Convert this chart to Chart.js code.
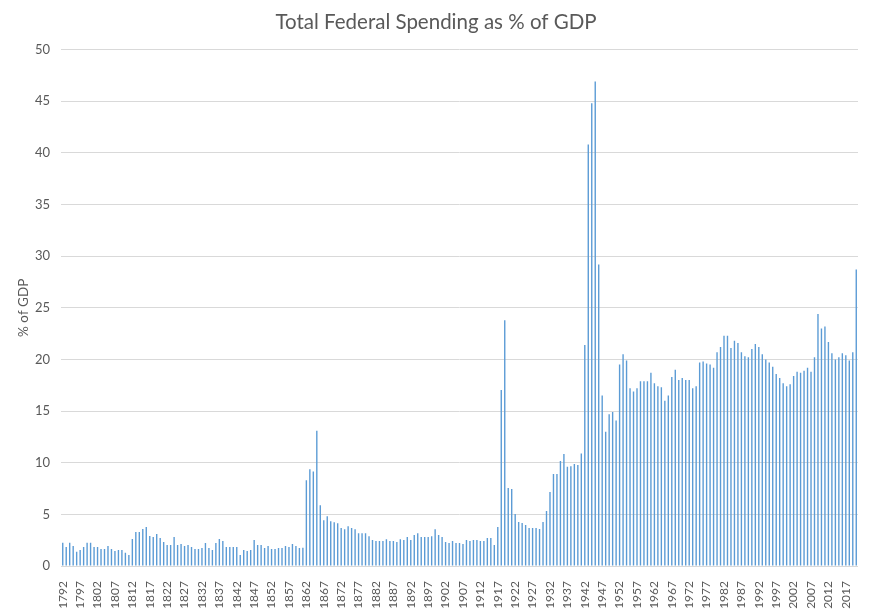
<!DOCTYPE html>
<html>
<head>
<meta charset="utf-8">
<title>Total Federal Spending as % of GDP</title>
<script src="https://cdn.jsdelivr.net/npm/chart.js@4/dist/chart.umd.min.js"></script>
<style>
    html, body { margin: 0; padding: 0; background: #fff; }
    #wrap { width: 872px; height: 609px; }
</style>
</head>
<body>
<div id="wrap"><canvas id="chart"></canvas></div>
<script>
// % of GDP by year
const firstYear = 1792;

const spendEarly = [ // 1792-1861
    2.26, 1.84, 2.26, 1.94, 1.39, 1.55, 1.84, 2.26, 2.26, 1.84,
    1.84, 1.65, 1.65, 1.94, 1.65, 1.45, 1.55, 1.55, 1.29, 1.06,
    2.61, 3.29, 3.29, 3.58, 3.77, 2.90, 2.81, 3.10, 2.71, 2.32,
    2.03, 2.03, 2.81, 2.03, 2.13, 1.94, 2.03, 1.84, 1.65, 1.65,
    1.74, 2.23, 1.74, 1.55, 2.23, 2.61, 2.42, 1.84, 1.84, 1.84,
    1.84, 1.06, 1.55, 1.45, 1.55, 2.52, 2.03, 2.03, 1.74, 1.94,
    1.65, 1.65, 1.74, 1.74, 1.94, 1.84, 2.13, 1.94, 1.74, 1.77
];
const spendCivilWar = [ // 1862-1916
    8.3, 9.36, 9.16, 13.1, 5.88, 4.44, 4.82, 4.34, 4.24, 4.15,
    3.67, 3.57, 3.86, 3.67, 3.57, 3.18, 3.18, 3.18, 2.89, 2.51,
    2.41, 2.41, 2.41, 2.60, 2.41, 2.41, 2.32, 2.60, 2.51, 2.80,
    2.51, 2.99, 3.18, 2.80, 2.80, 2.80, 2.89, 3.57, 2.99, 2.81,
    2.32, 2.23, 2.42, 2.23, 2.23, 2.13, 2.52, 2.42, 2.52, 2.52,
    2.42, 2.42, 2.71, 2.71, 2.03
];
const spendWars = [ // 1917-1951
    3.77, 17.03, 23.8, 7.55, 7.45, 5.03, 4.26, 4.16, 3.97, 3.68,
    3.68, 3.68, 3.58, 4.26, 5.32, 7.16, 8.90, 8.90, 10.16, 10.84,
    9.6, 9.65, 9.87, 9.77, 10.9, 21.4, 40.8, 44.8, 46.9, 29.2,
    16.5, 13.0, 14.7, 14.9, 14.1
];
const spendModern = [ // 1952-2020
    19.5, 20.5, 19.9, 17.2, 16.9, 17.2, 17.9, 17.9, 17.9, 18.7,
    17.7, 17.4, 17.3, 16.0, 16.5, 18.3, 19.0, 18.0, 18.2, 18.0,
    18.0, 17.2, 17.4, 19.7, 19.8, 19.6, 19.5, 19.2, 20.7, 21.2,
    22.3, 22.3, 21.1, 21.8, 21.6, 20.7, 20.3, 20.2, 21.0, 21.5,
    21.2, 20.5, 20.0, 19.7, 19.3, 18.6, 18.2, 17.7, 17.4, 17.6,
    18.4, 18.8, 18.7, 18.9, 19.2, 18.8, 20.2, 24.4, 23.0, 23.2,
    21.7, 20.6, 20.0, 20.2, 20.6, 20.4, 19.9, 20.7, 28.7
];

const spending = spendEarly.concat(spendCivilWar, spendWars, spendModern);
const years = spending.map((v, i) => String(firstYear + i));

const textColor = '#595959';
const fontFace = 'Lato, "DejaVu Sans", sans-serif';

let chartEle = document.getElementById("chart");
let chart = new Chart(chartEle, {
    type: "bar",
    data: {
        labels: years,
        datasets: [
            {
                label: '% of GDP',
                data: spending,
                backgroundColor: '#5b9bd5',
                categoryPercentage: 1,
                barPercentage: 0.4
            }
        ]
    },
    options: {
        responsive: true,
        maintainAspectRatio: false,
        animation: false,
        layout: {
            padding: { top: 6, right: 7, left: 7, bottom: 0 }
        },
        plugins: {
            legend: { display: false },
            tooltip: { enabled: false },
            title: {
                display: true,
                text: 'Total Federal Spending as % of GDP',
                color: textColor,
                font: { family: fontFace, size: 20.5, weight: 'normal' },
                padding: { top: 4, bottom: 15 }
            }
        },
        scales: {
            x: {
                grid: { display: false },
                border: { display: false },
                afterFit: (axis) => {
                    // keep the plot the same size as the original
                    axis.height = 43;
                    axis.paddingLeft = 0;
                    axis.paddingRight = 14;
                },
                ticks: {
                    autoSkip: false,
                    maxRotation: 90,
                    minRotation: 90,
                    padding: 7,
                    color: textColor,
                    font: { family: fontFace, size: 12 },
                    callback: function (val, idx) {
                        return idx % 5 === 0 ? this.getLabelForValue(val) : '';
                    }
                }
            },
            y: {
                min: 0,
                max: 50,
                grid: { color: '#d9d9d9', drawTicks: false },
                border: { display: false },
                afterFit: (axis) => { axis.width = 54; },
                ticks: {
                    stepSize: 5,
                    padding: 11,
                    color: textColor,
                    font: { family: fontFace, size: 13 }
                },
                title: {
                    display: true,
                    text: '% of GDP',
                    color: textColor,
                    font: { family: fontFace, size: 13.5 },
                    padding: { top: 9, bottom: 4 }
                }
            }
        }
    }
});
</script>
</body>
</html>
